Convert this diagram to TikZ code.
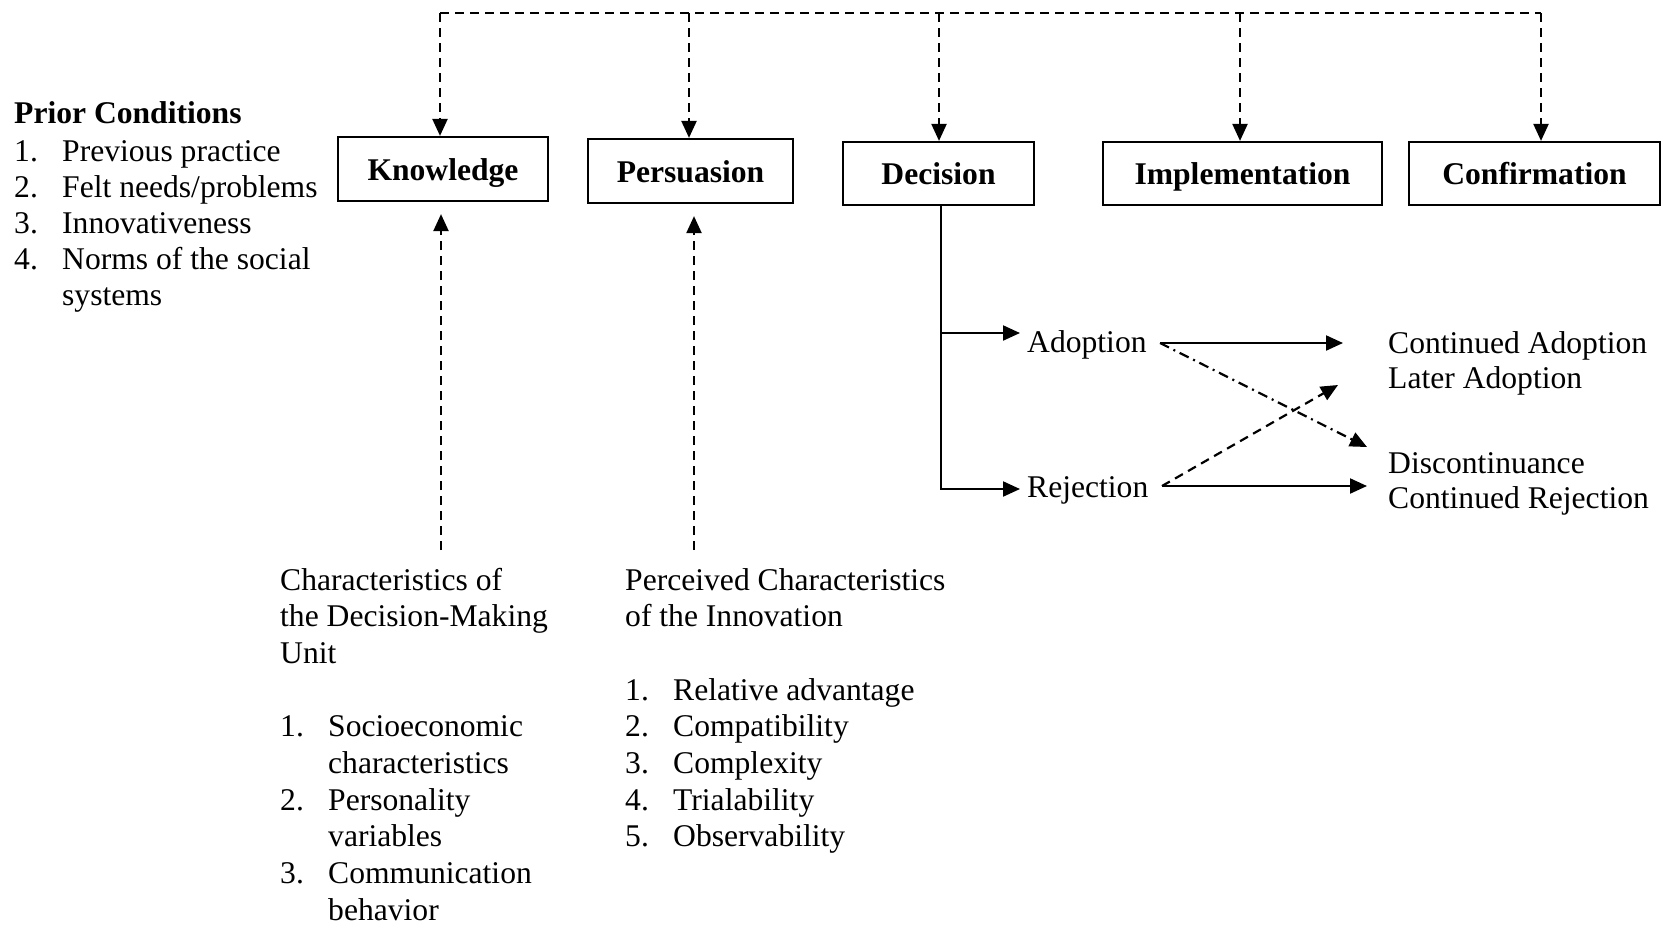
\documentclass[tikz,border=0pt]{standalone}
\usepackage{fontspec}
\setmainfont{Liberation Serif}
\usetikzlibrary{arrows.meta,calc}

\begin{document}
\begin{tikzpicture}[x=1pt,y=-1pt,
  every node/.style={inner sep=0pt, font=\fontsize{31.6}{36.7}\selectfont},
  txt/.style={anchor=base west},
  stage/.style={draw, line width=2.2pt, inner sep=0pt,
    text height=24pt, text depth=2pt,
    font=\fontsize{31.6}{36.7}\selectfont\bfseries},
  conn/.style={line width=2.2pt},
  tip/.style={-{Triangle[length=17pt,width=15pt]}},
  dsh/.style={dash pattern=on 9pt off 6pt},
  dashdot/.style={dash pattern=on 10pt off 5pt on 2pt off 5pt}]

\useasboundingbox (0,0) rectangle (1669,927);

% stage boxes
\node[stage, minimum width=210pt, minimum height=64pt] (know) at (443,169) {Knowledge};
\node[stage, minimum width=205pt, minimum height=64pt] (pers) at (690.5,171) {Persuasion};
\node[stage, minimum width=191pt, minimum height=63pt] (dec)  at (938.5,173.5) {Decision};
\node[stage, minimum width=279pt, minimum height=63pt] (impl) at (1242.5,173.5) {Implementation};
\node[stage, minimum width=251pt, minimum height=63pt] (conf) at (1534.5,173.5) {Confirmation};

% feedback line across the top
\coordinate (t1) at (440,13);
\coordinate (t2) at (689,13);
\coordinate (t3) at (939,13);
\coordinate (t4) at (1240,13);
\coordinate (t5) at (1541,13);
\draw[conn,dsh] (t1) -- (t5);
\draw[conn,dsh,tip] (t1) -- (t1 |- know.north);
\draw[conn,dsh,tip] (t2) -- (t2 |- pers.north);
\draw[conn,dsh,tip] (t3) -- (t3 |- dec.north);
\draw[conn,dsh,tip] (t4) -- (t4 |- impl.north);
\draw[conn,dsh,tip] (t5) -- (t5 |- conf.north);

% prior conditions
\node[txt, font=\fontsize{31.6}{36.7}\selectfont\bfseries] (pc) at (14,123) {Prior Conditions};
\node[txt] (pn1) at (14,161) {1.};
\node[txt] (pt1) at (62,161) {Previous practice};
\node[txt] (pn2) at (14,197) {2.};
\node[txt] (pt2) at (62,197) {Felt needs/problems};
\node[txt] (pn3) at (14,233) {3.};
\node[txt] (pt3) at (62,233) {Innovativeness};
\node[txt] (pn4) at (14,269) {4.};
\node[txt] (pt4) at (62,269) {Norms of the social};
\node[txt] (pt5) at (62,305) {systems};

% characteristics of the decision-making unit
\node[txt] (u1) at (280,590) {Characteristics of};
\node[txt] (u2) at (280,626.7) {the Decision-Making};
\node[txt] (u3) at (280,663.4) {Unit};
\node[txt] (un1) at (280,736.8) {1.};
\node[txt] (ut1) at (328,736.8) {Socioeconomic};
\node[txt] (ut2) at (328,773.5) {characteristics};
\node[txt] (un2) at (280,810.2) {2.};
\node[txt] (ut3) at (328,810.2) {Personality};
\node[txt] (ut4) at (328,846.9) {variables};
\node[txt] (un3) at (280,883.6) {3.};
\node[txt] (ut5) at (328,883.6) {Communication};
\node[txt] (ut6) at (328,920.3) {behavior};

% perceived characteristics of the innovation
\node[txt] (v1) at (625,590) {Perceived Characteristics};
\node[txt] (v2) at (625,626.7) {of the Innovation};
\node[txt] (vn1) at (625,700.1) {1.};
\node[txt] (vt1) at (673,700.1) {Relative advantage};
\node[txt] (vn2) at (625,736.8) {2.};
\node[txt] (vt2) at (673,736.8) {Compatibility};
\node[txt] (vn3) at (625,773.5) {3.};
\node[txt] (vt3) at (673,773.5) {Complexity};
\node[txt] (vn4) at (625,810.2) {4.};
\node[txt] (vt4) at (673,810.2) {Trialability};
\node[txt] (vn5) at (625,846.9) {5.};
\node[txt] (vt5) at (673,846.9) {Observability};

% influences on knowledge and persuasion
\coordinate (b1) at (441,550);
\coordinate (b2) at (694,550);
\draw[conn,dsh,tip] (b1) -- ($(b1 |- know.south)+(0,12)$);
\draw[conn,dsh,tip] (b2) -- ($(b2 |- pers.south)+(0,12)$);

% decision outcomes
\node[txt] (adopt) at (1027,352) {Adoption};
\node[txt] (rej)   at (1027,497) {Rejection};
\node[txt] (ca)  at (1388,353) {Continued Adoption};
\node[txt] (la)  at (1388,388.5) {Later Adoption};
\node[txt] (dis) at (1388,473) {Discontinuance};
\node[txt] (cr)  at (1388,508.5) {Continued Rejection};

\coordinate (dv) at (941,490);
\coordinate (ba) at (941,333);
\coordinate (br) at (941,489);
\draw[conn] (dec.south -| dv) -- (dv);
\draw[conn,tip,shorten >=7pt] (ba) -- (ba -| adopt.west);
\draw[conn,tip,shorten >=7pt] (br) -- (br -| rej.west);

\coordinate (aout) at (1160,343);
\coordinate (rout) at (1162,486);
\coordinate (cain) at (1343,343);
\coordinate (lain) at (1338,385);
\coordinate (disin) at (1367,447);
\coordinate (crin) at (1367,486);
\draw[conn,tip] (aout) -- (cain);
\draw[conn,tip] (rout) -- (crin);
\draw[conn,dashdot,tip] (aout) -- (disin);
\draw[conn,dsh,tip] (rout) -- (lain);
\end{tikzpicture}
\end{document}
